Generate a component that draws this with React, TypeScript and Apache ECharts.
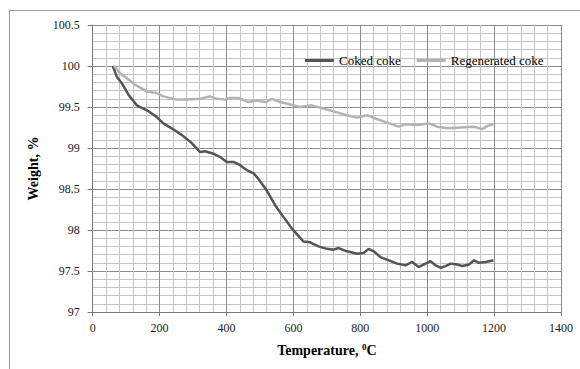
import React, { useEffect, useRef } from "react";
import * as echarts from "echarts";

const cokedT = [60, 72, 87, 107, 132, 162, 191, 211, 236, 266, 296, 321, 336, 361, 381, 401, 421, 441, 461, 481, 496, 519, 549, 570, 595, 630, 650, 675, 700, 720, 735, 760, 790, 810, 825, 840, 860, 885, 910, 935, 955, 975, 995, 1010, 1025, 1040, 1055, 1070, 1090, 1105, 1125, 1140, 1155, 1175, 1198];
const cokedW = [100, 99.87, 99.79, 99.65, 99.52, 99.46, 99.38, 99.3, 99.24, 99.16, 99.06, 98.95, 98.96, 98.93, 98.89, 98.83, 98.83, 98.79, 98.73, 98.69, 98.62, 98.49, 98.28, 98.16, 98.02, 97.86, 97.85, 97.8, 97.77, 97.76, 97.78, 97.74, 97.71, 97.72, 97.77, 97.74, 97.67, 97.63, 97.59, 97.57, 97.61, 97.55, 97.59, 97.62, 97.57, 97.54, 97.56, 97.59, 97.58, 97.56, 97.58, 97.63, 97.6, 97.61, 97.63];

const regenT = [64, 82, 102, 127, 162, 191, 211, 251, 281, 321, 351, 371, 396, 411, 436, 466, 491, 516, 536, 561, 591, 620, 655, 690, 725, 760, 790, 820, 845, 880, 915, 935, 970, 1005, 1030, 1060, 1100, 1140, 1165, 1180, 1198];
const regenW = [100, 99.91, 99.85, 99.77, 99.69, 99.67, 99.63, 99.59, 99.59, 99.6, 99.63, 99.6, 99.59, 99.61, 99.61, 99.56, 99.58, 99.56, 99.6, 99.56, 99.53, 99.5, 99.52, 99.48, 99.44, 99.4, 99.37, 99.4, 99.36, 99.31, 99.26, 99.29, 99.28, 99.3, 99.26, 99.24, 99.25, 99.26, 99.23, 99.27, 99.29];

const seriesNames = ["Coked coke", "Regenerated coke"];

export default function App() {
  const ref = useRef<HTMLDivElement>(null);
  useEffect(() => {
    if (!ref.current) return;
    const chart = echarts.init(ref.current, null, { renderer: "svg" });
    const font = "Liberation Serif";
    chart.setOption({
      animation: false,
      backgroundColor: "#ffffff",
      textStyle: { fontFamily: font },
      graphic: [
        {
          type: "rect",
          shape: { x: 9.5, y: 10.5, width: 700, height: 500 },
          style: { fill: "none", stroke: "#9a9a9a", lineWidth: 1 },
          silent: true,
          z: -10,
        },
      ],
      grid: { left: 92.7, right: 19, top: 25, bottom: 57 },
      legend: {
        left: 300,
        top: 49,
        itemWidth: 29,
        itemHeight: 14,
        itemGap: 16,
        icon: "path://M0,6L29,6L29,9L0,9Z",
        textStyle: { fontFamily: font, fontSize: 13, color: "#000" },
        data: seriesNames,
      },
      xAxis: {
        type: "value",
        min: 0,
        max: 1400,
        interval: 200,
        name: "Temperature, {sup|0}C",
        nameLocation: "middle",
        nameGap: 30,
        nameTextStyle: {
          fontFamily: font,
          fontSize: 14,
          fontWeight: "bold",
          color: "#000",
          rich: {
            sup: { fontFamily: font, fontSize: 9, fontWeight: "bold", verticalAlign: "top", padding: [0, 0, 8, 0] },
          },
        },
        axisLine: { show: true, onZero: false, lineStyle: { color: "#7a7a7a", width: 1 } },
        axisTick: { show: true, length: 4, lineStyle: { color: "#7a7a7a" } },
        axisLabel: { fontFamily: font, fontSize: 12, color: "#222", margin: 10, formatter: (v: number) => String(v) },
        splitLine: { show: true, lineStyle: { color: "#8c8c8c", width: 1 } },
        minorTick: { show: false, splitNumber: 5 },
        minorSplitLine: { show: true, lineStyle: { color: "#c4c4c4", width: 1 } },
      },
      yAxis: {
        type: "value",
        min: 97,
        max: 100.5,
        interval: 0.5,
        name: "Weight, %",
        nameLocation: "middle",
        nameGap: 52,
        nameTextStyle: { fontFamily: font, fontSize: 14, fontWeight: "bold", color: "#000" },
        axisLine: { show: true, lineStyle: { color: "#7a7a7a", width: 1 } },
        axisTick: { show: true, length: 5, lineStyle: { color: "#7a7a7a" } },
        axisLabel: { fontFamily: font, fontSize: 12, color: "#222", margin: 13, formatter: (v: number) => String(v) },
        splitLine: { show: true, lineStyle: { color: "#8c8c8c", width: 1 } },
        minorTick: { show: false, splitNumber: 5 },
        minorSplitLine: { show: true, lineStyle: { color: "#c4c4c4", width: 1 } },
      },
      series: [
        {
          name: seriesNames[0],
          type: "line",
          showSymbol: false,
          data: cokedT.map((t, i) => [t, cokedW[i]]),
          lineStyle: { color: "#555555", width: 2.5 },
          itemStyle: { color: "#555555" },
        },
        {
          name: seriesNames[1],
          type: "line",
          showSymbol: false,
          data: regenT.map((t, i) => [t, regenW[i]]),
          lineStyle: { color: "#b3b3b3", width: 2.5 },
          itemStyle: { color: "#b3b3b3" },
        },
      ],
    });
    return () => chart.dispose();
  }, []);
  return (
    <div style={{ position: "fixed", left: 0, top: 0, width: 580, height: 369, background: "#fff" }}>
      <div ref={ref} style={{ width: 580, height: 369 }} />
    </div>
  );
}
